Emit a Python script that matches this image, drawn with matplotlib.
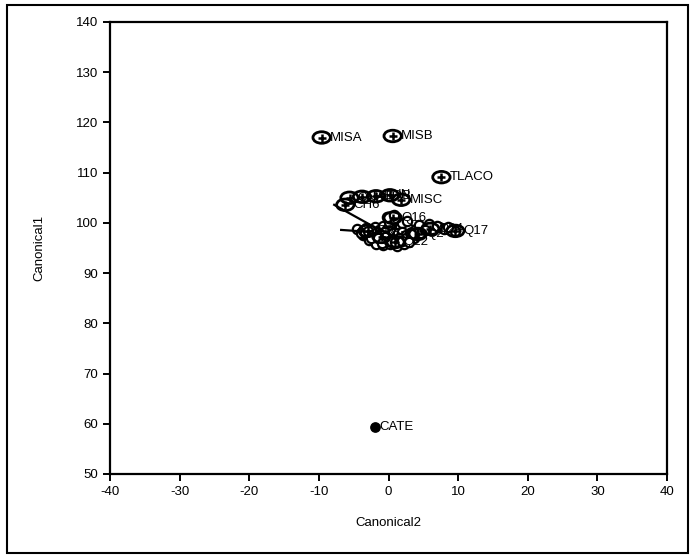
import numpy as np
import matplotlib.pyplot as plt
from matplotlib.patches import Ellipse, Rectangle

plt.rcParams['font.family'] = ['Liberation Sans', 'DejaVu Sans']
plt.rcParams['axes.unicode_minus'] = False

# ======================
# 1. DATA
# ======================

# group means (Canonical2, Canonical1) with labels
group_names = ["MISA", "MISB", "TLACO", "MISC", "CH6", "CHA", "JAR", "BOB", "IN",
               "Q16", "Q17", "Q22", "Q2", "Q24", "Q9", "Q5"]
group_c2 = [-9.6, 0.6, 7.6, 1.8, -6.2, -5.6, -3.8, -1.8, 0.2,
            0.6, 9.6, 1.0, 4.2, 6.0, -3.0, -1.0]
group_c1 = [117.0, 117.3, 109.1, 104.6, 103.6, 105.0, 105.2, 105.3, 105.5,
            101.0, 98.4, 96.2, 97.8, 98.8, 98.4, 97.2]

# individual observations (open circles)
obs_c2 = [-4.5, -3.8, -3.2, -2.6, -2.0, -1.4, -0.8, -0.2, 0.4, 1.0, 1.6, 2.2,
          2.8, 3.4, 4.0, 4.8, 5.6, 6.4, 7.2, 8.0, 9.6,
          -3.6, -3.0, -2.4, -1.8, -1.2, -0.6, 0.0, 0.6, 1.2, 1.8, 2.4, 3.0,
          -2.8, -2.0, -1.2, -0.4, 0.4, 1.2, 2.0, 2.8, 3.6,
          -1.8, -0.8, 0.2, 1.2, 2.2, 0.0, 1.0, 2.0,
          -0.2, 0.8, 2.6, 4.4, 5.8, 7.0, 8.6,
          -4.0, -3.4, -2.9, -2.3, -1.7, -1.1, -0.5, 0.1, 0.7, 1.3, 1.9, 2.5,
          3.1, 3.7, 4.3, -2.5, -1.5, -0.5, 0.5, 1.5, 2.5, 3.3,
          -1.0, 0.0, 1.0, 2.0, 3.0, 4.6, 5.2]
obs_c1 = [98.8, 98.2, 99.0, 98.4, 99.2, 98.6, 99.4, 98.8, 99.6, 98.4, 99.2, 98.6,
          99.0, 98.2, 98.8, 98.4, 99.0, 98.6, 99.2, 98.8, 98.4,
          97.6, 97.2, 97.8, 97.0, 97.6, 97.2, 97.8, 97.0, 97.6, 97.2, 97.8, 97.4,
          96.6, 96.2, 96.8, 96.4, 96.0, 96.6, 96.2, 96.8, 97.0,
          95.8, 95.6, 95.8, 95.4, 95.8, 100.2, 100.6, 100.0,
          101.2, 101.6, 100.4, 99.6, 99.8, 99.4, 99.2,
          98.0, 97.9, 98.3, 97.5, 98.1, 97.9, 98.2, 97.5, 98.0, 97.9, 98.1, 97.6,
          98.0, 97.7, 97.9, 97.0, 96.9, 97.1, 96.8, 97.0, 96.9, 97.7,
          96.0, 96.3, 96.1, 96.3, 96.1, 97.9, 98.6]

# outlier group (filled)
cate_c2 = [-2.0]
cate_c1 = [59.4]

# biplot rays (start, end)
ray_c2 = [[-2.6, -7.8], [-2.6, -6.8]]
ray_c1 = [[99.6, 103.6], [98.2, 98.6]]

# ======================
# 2. PLOT
# ======================

fig = plt.figure(figsize=(6.94, 5.58), dpi=100)
ax = fig.add_axes([110 / 694, 1 - 474 / 558, 557 / 694, 452 / 558])

# outer frame
fig.patches.append(Rectangle((7 / 694, 5 / 558), 681 / 694, 548 / 558,
                             transform=fig.transFigure, fill=False,
                             edgecolor='black', linewidth=1.5))

ax.scatter(obs_c2, obs_c1, s=45, facecolors='white', edgecolors='black',
           linewidths=1.6, zorder=3)

for xs, ys in zip(ray_c2, ray_c1):
    ax.plot(xs, ys, color='black', linewidth=1.6, zorder=4)

for name, x, y in zip(group_names, group_c2, group_c1):
    ax.add_patch(Ellipse((x, y), 2.5, 2.3, fill=False, edgecolor='black',
                         linewidth=2.0, zorder=5))
    ax.plot(x, y, marker='+', color='black', markersize=6, mew=1.8, zorder=5)
    ax.text(x + 1.2, y, name, fontsize=9.5, va='center', ha='left', zorder=6)

ax.scatter(cate_c2, cate_c1, s=45, color='black', zorder=5)
ax.text(cate_c2[0] + 0.7, cate_c1[0], "CATE", fontsize=9.5, va='center', ha='left')

ax.set_xlim(-40, 40)
ax.set_ylim(50, 140)
ax.set_xticks(np.arange(-40, 41, 10))
ax.set_yticks(np.arange(50, 141, 10))
ax.tick_params(direction='out', length=5, width=1.4, labelsize=9.5)
for sp in ax.spines.values():
    sp.set_linewidth(1.6)

ax.set_xlabel("Canonical2", fontsize=9.5, labelpad=14)
ax.set_ylabel("Canonical1", fontsize=9.5, labelpad=22)

fig.savefig("out.png", dpi=100)
